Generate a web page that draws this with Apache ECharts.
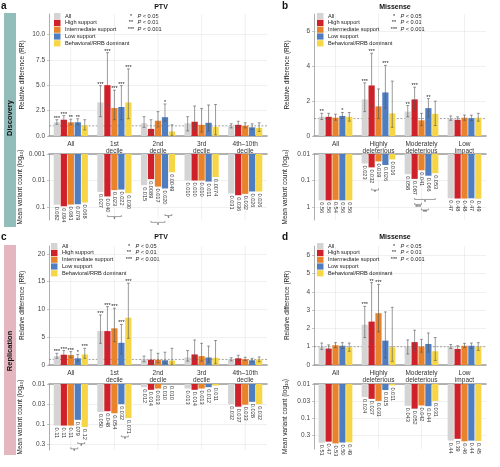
<!DOCTYPE html>
<html>
<head>
<meta charset="utf-8">
<script src="https://cdn.jsdelivr.net/npm/echarts@6/dist/echarts.min.js"></script>
<style>
  html, body { margin: 0; padding: 0; background: #fff; }
  #main { width: 500px; height: 467px; }
</style>
</head>
<body>
<div id="main"></div>
<script>
var FONT = 'Liberation Sans, Arial, Helvetica, sans-serif';

var groupNames = ['All', 'High support', 'Intermediate support', 'Low support', 'Behavioral/RRB dominant'];
var groupColors = ['#d4d4d4', '#cf2129', '#e8832b', '#4f7ec0', '#f6d647'];

var ptvCats = ['All', '1st\ndecile', '2nd\ndecile', '3rd\ndecile', '4th–10th\ndecile'];
var misCats = ['All', 'Highly\ndeleterious', 'Moderately\ndeleterious', 'Low\nimpact'];

// ---- a: discovery, PTV (rows = groups, cols = categories)
var aRR = [[1.35, 3.3, 1.25, 1.25, 0.95], [1.6, 5.0, 0.7, 1.4, 1.1], [1.35, 2.75, 1.5, 1.1, 1.0], [1.35, 2.85, 1.85, 1.3, 0.85], [1.05, 3.3, 0.45, 0.9, 0.8]];
var aLo = [[1.15, 1.9, 0.85, 0.5, 0.8], [1.3, 3.0, 0.3, 0.6, 0.85], [1.1, 1.6, 0.9, 0.4, 0.8], [1.1, 1.6, 1.45, 0.5, 0.65], [0.6, 1.7, 0.05, 0.1, 0.45]];
var aHi = [[1.6, 4.95, 1.9, 1.9, 1.2], [2.0, 8.2, 1.6, 2.95, 1.45], [1.65, 4.5, 2.4, 2.7, 1.3], [1.7, 4.95, 3.15, 3.05, 1.2], [1.6, 6.6, 1.1, 3.1, 1.3]];
var aStars = [['***', '***', '', '', ''], ['***', '***', '', '', ''], ['**', '***', '', '', ''], ['**', '***', '*', '', ''], ['', '***', '', '', '']];
var aCount = [['0.082', '0.027', '0.015', '0.010', '0.031'], ['0.094', '0.040', '0.0089', '0.010', '0.036'], ['0.081', '0.023', '0.017', '0.010', '0.032'], ['0.079', '0.022', '0.020', '0.011', '0.026'], ['0.068', '0.030', '0.0049', '0.0074', '0.026']];
var aBr = [[1, 1, 3, 0.23], [2, 1, 3, 0.38], [2, 3, 4, 0.21]];
var aBrStars = ['*', '*', '*'];

// ---- b: discovery, missense
var bRR = [[1.1, 2.1, 1.4, 1.0], [1.1, 2.9, 2.1, 0.93], [1.05, 1.7, 0.9, 1.05], [1.15, 2.5, 1.6, 1.02], [1.1, 1.3, 1.27, 1.05]];
var bLo = [[0.95, 1.4, 1.1, 0.9], [0.95, 1.7, 1.5, 0.8], [0.9, 1.0, 0.6, 0.9], [1.0, 1.6, 1.1, 0.88], [0.85, 0.5, 0.6, 0.85]];
var bHi = [[1.3, 3.05, 1.75, 1.15], [1.3, 4.75, 2.8, 1.1], [1.25, 2.7, 1.3, 1.2], [1.35, 4.05, 2.15, 1.2], [1.35, 3.15, 2.0, 1.3]];
var bStars = [['**', '***', '**', ''], ['', '***', '***', ''], ['', '', '', ''], ['*', '***', '**', ''], ['', '', '', '']];
var bCount = [['0.56', '0.023', '0.058', '0.47'], ['0.56', '0.032', '0.087', '0.48'], ['0.54', '0.019', '0.041', '0.48'], ['0.56', '0.026', '0.066', '0.47'], ['0.56', '0.016', '0.053', '0.49']];
var bBr = [[1, 1, 2, 0.23], [2, 1, 4, 0.52], [2, 1, 2, 0.8], [2, 2, 3, 1.3]];
var bBrStars = ['*', '*', '***', '**'];

// ---- c: replication, PTV
var cRR = [[1.6, 6.1, 1.05, 1.35, 1.0], [1.85, 6.1, 0.95, 1.9, 1.2], [1.8, 6.6, 0.95, 1.6, 1.05], [1.2, 4.0, 0.85, 1.35, 0.85], [1.9, 8.5, 0.8, 1.3, 1.0]];
var cLo = [[1.2, 3.9, 0.6, 0.7, 0.75], [1.3, 3.2, 0.3, 0.9, 0.8], [1.3, 4.2, 0.4, 0.7, 0.8], [0.7, 2.0, 0.3, 0.5, 0.6], [1.2, 4.8, 0.1, 0.2, 0.6]];
var cHi = [[2.1, 9.0, 1.6, 2.6, 1.3], [2.6, 10.5, 2.7, 4.5, 1.75], [2.4, 10.2, 2.1, 3.9, 1.4], [1.9, 7.3, 2.3, 3.4, 1.2], [3.0, 14.7, 3.0, 4.4, 1.45]];
var cStars = [['***', '***', '', '', ''], ['***', '***', '', '', ''], ['***', '***', '', '', ''], ['*', '***', '', '', ''], ['***', '***', '', '', '']];
var cCount = [['0.11', '0.050', '0.012', '0.013', '0.032'], ['0.11', '0.048', '0.014', '0.014', '0.037'], ['0.11', '0.054', '0.013', '0.013', '0.033'], ['0.079', '0.032', '0.010', '0.012', '0.028'], ['0.12', '0.071', '0.010', '0.011', '0.032']];
var cBr = [[0, 2, 3, 0.42], [0, 3, 4, 0.31], [1, 3, 4, 0.21]];
var cBrStars = ['*', '*', '*'];

// ---- d: replication, missense
var dRR = [[1.0, 2.2, 1.0, 1.0], [0.9, 2.37, 1.25, 0.88], [1.08, 2.83, 1.0, 1.05], [1.05, 1.33, 1.15, 1.05], [0.97, 0.97, 0.75, 1.0]];
var dLo = [[0.85, 1.5, 0.6, 0.9], [0.75, 1.3, 0.8, 0.75], [0.95, 1.8, 0.7, 0.95], [0.9, 0.4, 0.7, 0.9], [0.75, 0.2, 0.25, 0.8]];
var dHi = [[1.2, 3.2, 1.37, 1.12], [1.1, 4.5, 1.9, 1.05], [1.22, 4.4, 1.4, 1.18], [1.22, 2.9, 1.75, 1.2], [1.2, 3.15, 1.5, 1.22]];
var dStars = [['', '***', '', ''], ['', '**', '', ''], ['', '***', '', ''], ['', '', '', ''], ['', '', '', '']];
var dCount = [['0.51', '0.024', '0.043', '0.44'], ['0.47', '0.027', '0.052', '0.39'], ['0.53', '0.031', '0.042', '0.46'], ['0.50', '0.015', '0.044', '0.44'], ['0.49', '0.011', '0.031', '0.45']];
var dBr = [];
var dBrStars = [];

var panels = [
  { cats: ptvCats, rr: aRR, lo: aLo, hi: aHi, stars: aStars, count: aCount, br: aBr, brStars: aBrStars,
    left: 49, width: 218, top: 14, topH: 122, botTop: 154, botH: 66,
    rrMax: 12, rrStep: 2.5, rrDigits: 1, cMin: 0.001, cMax: 0.31, cBase: 10, legX: 54, legY: 13 },
  { cats: misCats, rr: bRR, lo: bLo, hi: bHi, stars: bStars, count: bCount, br: bBr, brStars: bBrStars,
    left: 314, width: 172, top: 14, topH: 122, botTop: 154, botH: 66,
    rrMax: 7, rrStep: 2, rrDigits: 0, cMin: 0.01, cMax: 3.1, cBase: 10, legX: 317, legY: 13 },
  { cats: ptvCats, rr: cRR, lo: cLo, hi: cHi, stars: cStars, count: cCount, br: cBr, brStars: cBrStars,
    left: 49, width: 218, top: 246, topH: 119, botTop: 384, botH: 66,
    rrMax: 21.4, rrStep: 5, rrDigits: 0, cMin: 0.01, cMax: 0.45, cBase: Math.sqrt(10), legX: 51, legY: 243 },
  { cats: misCats, rr: dRR, lo: dLo, hi: dHi, stars: dStars, count: dCount, br: dBr, brStars: dBrStars,
    left: 314, width: 172, top: 246, topH: 119, botTop: 384, botH: 65,
    rrMax: 6.5, rrStep: 1, rrDigits: 0, cMin: 0.01, cMax: 0.77, cBase: Math.sqrt(10), legX: 317, legY: 243 }
];

function logLabel(v) {
  var k = Math.round(Math.log10(v) * 2) / 2;
  var m = (k % 1 !== 0) ? 3 : 1;
  return String(Number((m * Math.pow(10, Math.floor(k))).toPrecision(1)));
}

function topBars(g, p) {
  return function (params, api) {
    var c = api.value(0);
    var step = api.size([1, 0])[0] * 0.16, w = step * 0.9;
    var base = api.coord([c, 0]);
    var x = base[0] + (g - 2) * step;
    var yv = api.coord([c, api.value(1)])[1];
    var yl = api.coord([c, api.value(2)])[1];
    var yh = api.coord([c, api.value(3)])[1];
    var cap = 1.4;
    var kids = [
      { type: 'rect', shape: { x: x - w / 2, y: yv, width: w, height: base[1] - yv }, style: { fill: groupColors[g] } },
      { type: 'line', shape: { x1: x, y1: yl, x2: x, y2: yh }, style: { stroke: '#555', lineWidth: 0.6 } },
      { type: 'line', shape: { x1: x - cap, y1: yh, x2: x + cap, y2: yh }, style: { stroke: '#555', lineWidth: 0.6 } },
      { type: 'line', shape: { x1: x - cap, y1: yl, x2: x + cap, y2: yl }, style: { stroke: '#555', lineWidth: 0.6 } }
    ];
    var st = p.stars[g][params.dataIndex];
    if (st) {
      kids.push({ type: 'text', x: x, y: yh + 1.5, style: { text: st, fontSize: 5.5, fontFamily: FONT, fill: '#222', align: 'center', verticalAlign: 'bottom' } });
    }
    return { type: 'group', children: kids };
  };
}

function botBars(g, p) {
  return function (params, api) {
    var c = api.value(0);
    var step = api.size([1, 0])[0] * 0.16, w = step * 0.9;
    var top = api.coord([c, p.cMin]);
    var x = top[0] + (g - 2) * step;
    var yv = api.coord([c, api.value(1)])[1];
    return { type: 'group', children: [
      { type: 'rect', shape: { x: x - w / 2, y: top[1], width: w, height: yv - top[1] }, style: { fill: groupColors[g] } },
      { type: 'text', x: x, y: yv + 2, rotation: -Math.PI / 2,
        style: { text: p.count[g][params.dataIndex], fontSize: 5.6, fontFamily: FONT, fill: '#333', align: 'left', verticalAlign: 'middle' } }
    ] };
  };
}

function bracketItem(p) {
  return function (params, api) {
    var c = api.value(0);
    var step = api.size([1, 0])[0] * 0.16;
    var pt = api.coord([c, api.value(3)]);
    var x1 = pt[0] + (api.value(1) - 2) * step, x2 = pt[0] + (api.value(2) - 2) * step, y = pt[1];
    return { type: 'group', children: [
      { type: 'polyline', shape: { points: [[x1, y - 1.5], [x1, y], [x2, y], [x2, y - 1.5]] }, style: { stroke: '#444', lineWidth: 0.5, fill: null } },
      { type: 'text', x: (x1 + x2) / 2, y: y + 0.3, style: { text: p.brStars[params.dataIndex], fontSize: 5, fontFamily: FONT, fill: '#222', align: 'center', verticalAlign: 'top' } }
    ] };
  };
}

function vGrid(params, api) {
  var cs = params.coordSys;
  var x = api.coord([api.value(0), api.value(1)])[0];
  return { type: 'line', shape: { x1: x, y1: cs.y, x2: x, y2: cs.y + cs.height }, style: { stroke: '#e6e6e6', lineWidth: 0.6 } };
}

function refLine(params, api) {
  var cs = params.coordSys;
  var y = api.coord([0, 1])[1];
  return { type: 'line', shape: { x1: cs.x, y1: y, x2: cs.x + cs.width, y2: y }, style: { stroke: '#7a7a7a', lineWidth: 0.7, lineDash: [2, 1.6] } };
}

var grid = [], xAxis = [], yAxis = [], series = [], legend = [];
var axisGray = '#9a9a9a';

panels.forEach(function (p, pi) {
  var gt = pi * 2, gb = pi * 2 + 1;
  grid.push({ left: p.left, top: p.top, width: p.width, height: p.topH });
  grid.push({ left: p.left, top: p.botTop, width: p.width, height: p.botH });

  xAxis.push({ type: 'category', gridIndex: gt, data: p.cats,
    axisLine: { lineStyle: { color: axisGray, width: 1.6 } }, axisTick: { show: false },
    axisLabel: { interval: 0, fontSize: 6.5, fontFamily: FONT, color: '#333', lineHeight: 7.5, margin: 4 } });
  xAxis.push({ type: 'category', gridIndex: gb, position: 'top', data: p.cats,
    axisLine: { lineStyle: { color: axisGray, width: 1.6 } }, axisTick: { show: false }, axisLabel: { show: false } });

  yAxis.push({ type: 'value', gridIndex: gt, min: 0, max: p.rrMax, interval: p.rrStep,
    name: 'Relative difference (RR)', nameLocation: 'middle', nameGap: 23,
    nameTextStyle: { fontSize: 6.5, fontFamily: FONT, color: '#222' },
    axisLine: { show: true, lineStyle: { color: axisGray, width: 0.8 } },
    axisTick: { show: true, length: 2, lineStyle: { color: axisGray, width: 0.6 } },
    axisLabel: { fontSize: 6.5, fontFamily: FONT, color: '#444', margin: 4, showMaxLabel: false,
      formatter: function (v) { return v.toFixed(p.rrDigits); } },
    splitLine: { show: true, showMaxLine: false, lineStyle: { color: '#e6e6e6', width: 0.6 } } });

  yAxis.push({ type: 'log', gridIndex: gb, logBase: p.cBase, inverse: true, min: p.cMin, max: p.cMax,
    name: 'Mean variant count (log{s|10})', nameLocation: 'middle', nameGap: 25,
    nameTextStyle: { fontSize: 6.5, fontFamily: FONT, color: '#222', rich: { s: { fontSize: 4.3, fontFamily: FONT, verticalAlign: 'bottom' } } },
    axisLine: { show: true, lineStyle: { color: axisGray, width: 0.8 } },
    axisTick: { show: true, length: 2, lineStyle: { color: axisGray, width: 0.6 } },
    axisLabel: { fontSize: 6.5, fontFamily: FONT, color: '#444', margin: 4, showMaxLabel: false, formatter: logLabel },
    splitLine: { show: true, showMaxLine: false, lineStyle: { color: '#e6e6e6', width: 0.6 } } });

  series.push({ type: 'custom', xAxisIndex: gt, yAxisIndex: gt, silent: true, z: 1,
    data: p.cats.map(function (c, i) { return [i, 1]; }), renderItem: vGrid });
  series.push({ type: 'custom', xAxisIndex: gb, yAxisIndex: gb, silent: true, z: 1,
    data: p.cats.map(function (c, i) { return [i, p.cMin]; }), renderItem: vGrid });
  series.push({ type: 'custom', xAxisIndex: gt, yAxisIndex: gt, silent: true, z: 2,
    data: [[0, 1]], renderItem: refLine });

  groupNames.forEach(function (name, g) {
    series.push({ type: 'custom', name: name, xAxisIndex: gt, yAxisIndex: gt, silent: true, z: 3,
      itemStyle: { color: groupColors[g] }, encode: { x: 0, y: 1 },
      data: p.cats.map(function (c, i) { return [i, p.rr[g][i], p.lo[g][i], p.hi[g][i]]; }),
      renderItem: topBars(g, p) });
    series.push({ type: 'custom', name: name, xAxisIndex: gb, yAxisIndex: gb, silent: true, z: 3,
      itemStyle: { color: groupColors[g] }, encode: { x: 0, y: 1 },
      data: p.cats.map(function (c, i) { return [i, parseFloat(p.count[g][i])]; }),
      renderItem: botBars(g, p) });
  });

  if (p.br.length) {
    series.push({ type: 'custom', xAxisIndex: gb, yAxisIndex: gb, silent: true, z: 4, clip: false,
      encode: { x: 0, y: 3 }, data: p.br, renderItem: bracketItem(p) });
  }

  legend.push({ left: p.legX, top: p.legY, orient: 'vertical', padding: 0, itemGap: 0.6,
    itemWidth: 6.5, itemHeight: 6.2, icon: 'rect', selectedMode: false, data: groupNames,
    textStyle: { fontSize: 5.6, fontFamily: FONT, color: '#222', padding: [0, 0, 0, -0.5] } });
});

function pLegend(x, y) {
  var rows = [['*', '0.05'], ['**', '0.01'], ['***', '0.001']];
  var out = [];
  rows.forEach(function (r, i) {
    out.push({ type: 'text', x: x, y: y + i * 6.6, style: { text: r[0], fontSize: 5.5, fontFamily: FONT, fill: '#222', align: 'center', verticalAlign: 'middle' } });
    out.push({ type: 'text', x: x + 6.5, y: y + i * 6.6, style: { text: '{i|P} < ' + r[1], fontSize: 5.6, fontFamily: FONT, fill: '#222', align: 'left', verticalAlign: 'middle',
      rich: { i: { fontStyle: 'italic', fontSize: 5.6, fontFamily: FONT, fill: '#222' } } } });
  });
  return out;
}

var graphic = [
  { type: 'rect', shape: { x: 4, y: 13, width: 12, height: 214 }, style: { fill: '#93bdba' } },
  { type: 'text', x: 10, y: 118, rotation: Math.PI / 2, style: { text: 'Discovery', fontSize: 7.5, fontWeight: 'bold', fontFamily: FONT, fill: '#111', align: 'center', verticalAlign: 'middle' } },
  { type: 'rect', shape: { x: 4, y: 245, width: 12, height: 210 }, style: { fill: '#e3b6c0' } },
  { type: 'text', x: 10, y: 351, rotation: Math.PI / 2, style: { text: 'Replication', fontSize: 7.5, fontWeight: 'bold', fontFamily: FONT, fill: '#111', align: 'center', verticalAlign: 'middle' } },
  { type: 'text', x: 1, y: 1, style: { text: 'a', fontSize: 10, fontWeight: 'bold', fontFamily: FONT, fill: '#111' } },
  { type: 'text', x: 282, y: 1, style: { text: 'b', fontSize: 10, fontWeight: 'bold', fontFamily: FONT, fill: '#111' } },
  { type: 'text', x: 1, y: 232, style: { text: 'c', fontSize: 10, fontWeight: 'bold', fontFamily: FONT, fill: '#111' } },
  { type: 'text', x: 282, y: 232, style: { text: 'd', fontSize: 10, fontWeight: 'bold', fontFamily: FONT, fill: '#111' } },
  { type: 'text', x: 161, y: 7, style: { text: 'PTV', fontSize: 7, fontWeight: 'bold', fontFamily: FONT, fill: '#111', align: 'center', verticalAlign: 'middle' } },
  { type: 'text', x: 395, y: 7, style: { text: 'Missense', fontSize: 7, fontWeight: 'bold', fontFamily: FONT, fill: '#111', align: 'center', verticalAlign: 'middle' } },
  { type: 'text', x: 161, y: 237, style: { text: 'PTV', fontSize: 7, fontWeight: 'bold', fontFamily: FONT, fill: '#111', align: 'center', verticalAlign: 'middle' } },
  { type: 'text', x: 395, y: 237, style: { text: 'Missense', fontSize: 7, fontWeight: 'bold', fontFamily: FONT, fill: '#111', align: 'center', verticalAlign: 'middle' } }
].concat(pLegend(131, 16), pLegend(394, 16), pLegend(129, 246), pLegend(394, 246));

var chart = echarts.init(document.getElementById('main'));
chart.setOption({
  backgroundColor: '#fff',
  animation: false,
  textStyle: { fontFamily: FONT },
  grid: grid,
  xAxis: xAxis,
  yAxis: yAxis,
  legend: legend,
  graphic: graphic,
  series: series
});
</script>
</body>
</html>
